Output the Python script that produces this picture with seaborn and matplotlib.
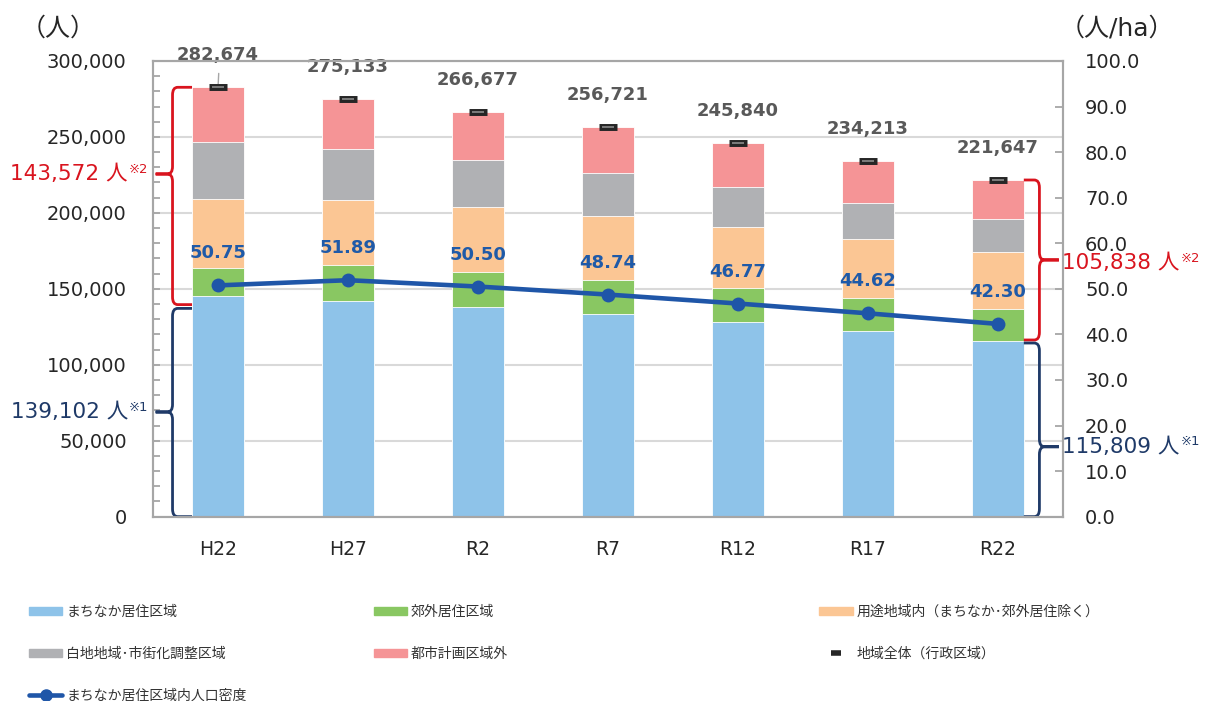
#%% Pacotes
import numpy as np
import pandas as pd
import seaborn as sns
import matplotlib.pyplot as plt
from matplotlib.patches import Patch, PathPatch
from matplotlib.lines import Line2D
from matplotlib.path import Path
from matplotlib.ticker import MultipleLocator, FuncFormatter

#%% Dados
years = ['H22', 'H27', 'R2', 'R7', 'R12', 'R17', 'R22']
machinaka = [145300, 142200, 138300, 133400, 128200, 122200, 115800]
kougai = [18700, 23300, 23000, 22600, 22200, 21600, 20900]
youto = [45200, 42800, 42600, 41800, 40300, 39000, 37300]
shiraji = [37300, 33600, 30900, 28300, 26100, 23900, 21800]
toshigai = [36200, 33200, 31900, 30600, 29000, 27500, 25800]
total = [282674, 275133, 266677, 256721, 245840, 234213, 221647]
density = [50.75, 51.89, 50.50, 48.74, 46.77, 44.62, 42.30]

# valores das chaves (※1 = まちなか, ※2 = resto)
brace_left = [139102, 143572]
brace_right = [115809, 105838]

labels = ['まちなか居住区域', '郊外居住区域', '用途地域内（まちなか･郊外居住除く）',
          '白地地域･市街化調整区域', '都市計画区域外', '地域全体（行政区域）',
          'まちなか居住区域内人口密度']

c_blue = '#8EC3E9'
c_green = '#89C762'
c_orange = '#FBC694'
c_gray = '#B0B1B4'
c_pink = '#F59496'
c_line = '#1F56A8'
c_red = '#D9141E'
c_navy = '#1F3A68'
c_axis = '#A6A6A6'

df = pd.DataFrame({'ano': years, 'machinaka': machinaka, 'kougai': kougai,
                   'youto': youto, 'shiraji': shiraji, 'toshigai': toshigai})
layers = ['machinaka', 'kougai', 'youto', 'shiraji', 'toshigai']
cols = [c_blue, c_green, c_orange, c_gray, c_pink]
cum = df[layers].cumsum(axis=1)

#%% Figura
sns.set_style('white')
plt.rcParams['font.family'] = ['DejaVu Sans', 'Noto Sans CJK JP']

fig, ax = plt.subplots(figsize=(12.05, 7.01), dpi=100)
fig.subplots_adjust(left=0.127, right=0.882, bottom=0.263, top=0.913)

# barras empilhadas: desenha do topo para baixo
for name, col in zip(layers[::-1], cols[::-1]):
    sns.barplot(x=df['ano'], y=cum[name], color=col, saturation=1, width=0.4,
                errorbar=None, edgecolor='white', linewidth=0.6, ax=ax, zorder=2)

x_pos = np.arange(len(years))

# marcador do total (地域全体)
ax.plot(x_pos, total, ls='none', marker='_', ms=13, mew=5, color='#262626', zorder=4)
ax.plot(x_pos, total, ls='none', marker='_', ms=9, mew=1.2, color='#8C8C8C', zorder=5)

for i, t in enumerate(total):
    ax.annotate(f'{t:,}', xy=(i, t), xytext=(0, 23), textcoords='offset points',
                ha='center', va='center', fontsize=13, fontweight='bold',
                color='#595959', annotation_clip=False)
ax.annotate('', xy=(0, total[0]), xytext=(0.5, 10), textcoords='offset points',
            arrowprops=dict(arrowstyle='-', color=c_axis, lw=1, shrinkA=0, shrinkB=2))

ax.set_xlim(-0.5, 6.5)
ax.set_ylim(0, 300000)
ax.yaxis.set_major_locator(MultipleLocator(50000))
ax.yaxis.set_minor_locator(MultipleLocator(10000))
ax.yaxis.set_major_formatter(FuncFormatter(lambda v, p: f'{v:,.0f}'))
ax.grid(axis='y', color='#D9D9D9', lw=1.5)
ax.set_axisbelow(True)
ax.tick_params(axis='y', which='both', direction='in', length=5, width=1.3,
               color=c_axis, labelsize=14, labelcolor='#262626', pad=19)
ax.tick_params(axis='x', length=0, labelsize=13.5, labelcolor='#262626', pad=17)
ax.set_xlabel('')
ax.set_ylabel('')
for s in ax.spines.values():
    s.set_color(c_axis)
    s.set_linewidth(1.5)

#%% Linha de densidade (eixo direito)
ax2 = ax.twinx()
sns.lineplot(x=x_pos, y=density, ax=ax2, color=c_line, lw=3.3, marker='o', ms=10,
             mew=0, zorder=6)
for i, d in enumerate(density):
    ax2.annotate(f'{d:.2f}', xy=(i, d), xytext=(0, 23), textcoords='offset points',
                 ha='center', va='center', fontsize=13, fontweight='bold', color='#1F5AA8')
ax2.set_ylim(0, 100)
ax2.yaxis.set_major_locator(MultipleLocator(10))
ax2.yaxis.set_major_formatter(FuncFormatter(lambda v, p: f'{v:.1f}'))
ax2.tick_params(axis='y', direction='in', length=6, width=1.3, color=c_axis,
                labelsize=14, labelcolor='#262626', pad=16)
ax2.set_ylabel('')
for s in ax2.spines.values():
    s.set_color(c_axis)
    s.set_linewidth(1.5)

#%% Chaves
M, L, C3 = Path.MOVETO, Path.LINETO, Path.CURVE3


def brace(x_edge, x_line, x_tip, y_bot, y_top, y_mid, color, dx=0.04, dy=5000):
    se = np.sign(x_edge - x_line)
    st = np.sign(x_tip - x_line)
    v = [(x_edge, y_top), (x_line + se * dx, y_top), (x_line, y_top), (x_line, y_top - dy),
         (x_line, y_mid + dy), (x_line, y_mid), (x_line + st * dx, y_mid), (x_tip, y_mid),
         (x_line + st * dx, y_mid), (x_line, y_mid), (x_line, y_mid - dy),
         (x_line, y_bot + dy), (x_line, y_bot), (x_line + se * dx, y_bot), (x_edge, y_bot)]
    c = [M, L, C3, C3, L, C3, C3, L, L, C3, C3, L, C3, C3, L]
    ax.add_patch(PathPatch(Path(v, c), fc='none', ec=color, lw=2, clip_on=False, zorder=3))


def brace_label(x, y, txt, sup, color, side, dy=0):
    off = -20 if side == 'left' else 2
    t = ax.annotate(txt, xy=(x, y), xytext=(off, dy), textcoords='offset points',
                    ha='right' if side == 'left' else 'left', va='center',
                    fontsize=15.5, color=color, annotation_clip=False)
    ax.annotate(sup, xy=(1, 1), xycoords=t, xytext=(1, 1), textcoords='offset points',
                ha='left', va='top', fontsize=9.5, color=color, annotation_clip=False)


brace(-0.2, -0.35, -0.48, brace_left[0] + 500, total[0], 225600, c_red)
brace(-0.2, -0.35, -0.48, 0, brace_left[0] - 2000, 68900, c_navy)
brace(6.2, 6.32, 6.47, brace_right[0] + 500, total[-1], 169000, c_red)
brace(6.2, 6.32, 6.47, 0, brace_right[0] - 1500, 46000, c_navy)

brace_label(-0.48, 225600, f'{brace_left[1]:,} 人', '※2', c_red, 'left')
brace_label(-0.48, 68900, f'{brace_left[0]:,} 人', '※1', c_navy, 'left')
brace_label(6.47, 169000, f'{brace_right[1]:,} 人', '※2', c_red, 'right', dy=-2.5)
brace_label(6.47, 46000, f'{brace_right[0]:,} 人', '※1', c_navy, 'right')

# unidades
fig.text(58 / 1205, 1 - 29 / 701, '（人）', ha='center', va='center', fontsize=18,
         color='#262626')
fig.text(1117 / 1205, 1 - 28 / 701, '（人/ha）', ha='center', va='center', fontsize=18,
         color='#262626')

#%% Legenda (3 colunas)
hl = dict(handlelength=2.4, handleheight=0.55, handletextpad=0.3, labelspacing=2.0,
          frameon=False, fontsize=10, borderpad=0, borderaxespad=0, loc='upper left',
          labelcolor='#333333')
h_line = Line2D([], [], color=c_line, lw=3.3, marker='o', ms=8)
h_tot = Line2D([], [], ls='none', marker='_', ms=7, mew=4, color='#262626')
fig.legend([Patch(color=c_blue), Patch(color=c_gray), h_line],
           [labels[0], labels[3], labels[6]], bbox_to_anchor=(0.024, 0.137), **hl)
fig.legend([Patch(color=c_green), Patch(color=c_pink)],
           [labels[1], labels[4]], bbox_to_anchor=(0.310, 0.137), **hl)
fig.legend([Patch(color=c_orange), h_tot],
           [labels[2], labels[5]], bbox_to_anchor=(0.680, 0.137), **hl)

fig.savefig('out.png', dpi=100)
